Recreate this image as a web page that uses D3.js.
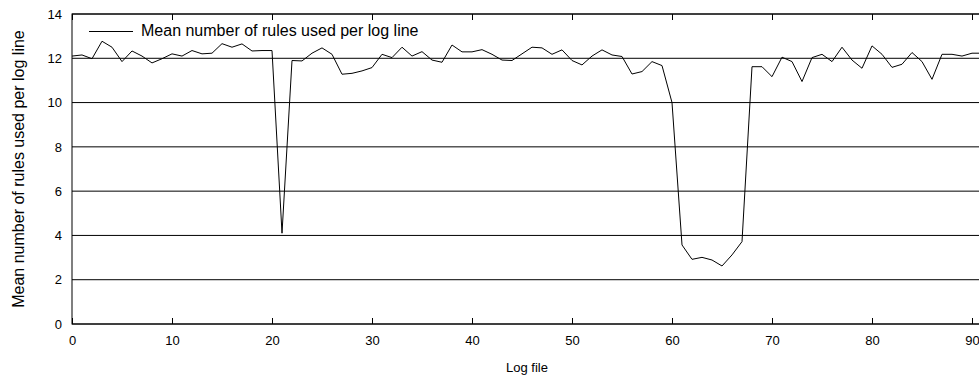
<!DOCTYPE html>
<html>
<head>
<meta charset="utf-8">
<script src="https://cdn.jsdelivr.net/npm/d3@7"></script>
<style>
  body { margin: 0; background: #fff; }
  svg { font-family: "Liberation Sans", Arial, sans-serif; }
</style>
</head>
<body>
<svg id="chart" width="979" height="379"></svg>
<script>
// values, one per log file (0..91)
var logFiles = d3.range(0, 92);
var meanRules = [
  12.1, 12.15, 11.98, 12.77, 12.5, 11.85, 12.33, 12.1, 11.79, 11.98,
  12.2, 12.1, 12.35, 12.2, 12.23, 12.66, 12.5, 12.65, 12.33, 12.35,
  12.35, 4.1, 11.9, 11.88, 12.23, 12.47, 12.18, 11.28, 11.32, 11.43,
  11.58, 12.18, 12.03, 12.5, 12.1, 12.3, 11.92, 11.82, 12.6, 12.29,
  12.29, 12.39, 12.18, 11.92, 11.9, 12.2, 12.5, 12.47, 12.18, 12.38,
  11.9, 11.7, 12.1, 12.38, 12.15, 12.08, 11.29, 11.4, 11.85, 11.67,
  10.0, 3.57, 2.92, 3.01, 2.89, 2.62, 3.12, 3.72, 11.62, 11.62,
  11.17, 12.05, 11.85, 10.95, 12.03, 12.18, 11.85, 12.5, 11.92, 11.55,
  12.56, 12.18, 11.59, 11.73, 12.26, 11.85, 11.05, 12.18, 12.18, 12.1,
  12.23, 12.23
];
var xTicks = [0, 10, 20, 30, 40, 50, 60, 70, 80, 90];
var yTicks = [0, 2, 4, 6, 8, 10, 12, 14];
var seriesName = "Mean number of rules used per log line";

var svg = d3.select("#chart");
// plot box (runs a little past the right edge of the window)
var pLeft = 72, pRight = 982, pTop = 14, pBottom = 324;

var x = d3.scaleLinear().domain([0, 91]).range([pLeft, pRight]);
var y = d3.scaleLinear().domain([0, 14]).range([pBottom, pTop]);

// horizontal grid
svg.append("g")
  .selectAll("line")
  .data(yTicks)
  .enter()
  .append("line")
  .attr("x1", pLeft).attr("x2", pRight)
  .attr("y1", d => y(d)).attr("y2", d => y(d))
  .style("stroke", "#000")
  .style("stroke-width", 1);

// bottom axis, ticks pointing inward
var xAxis = svg.append("g")
  .attr("transform", "translate(0," + pBottom + ")")
  .call(d3.axisBottom(x).tickValues(xTicks).tickSizeInner(-6).tickSizeOuter(0).tickPadding(12));
xAxis.select(".domain").remove();
xAxis.selectAll("line").style("stroke", "#000");
xAxis.selectAll("text").style("font-size", "13px").style("fill", "#000")
  .attr("font-family", null);

// top ticks
var xTop = svg.append("g")
  .attr("transform", "translate(0," + pTop + ")")
  .call(d3.axisTop(x).tickValues(xTicks).tickSizeInner(-6).tickSizeOuter(0).tickFormat(""));
xTop.select(".domain").remove();
xTop.selectAll("line").style("stroke", "#000");

// left axis labels
var yAxis = svg.append("g")
  .attr("transform", "translate(" + pLeft + ",0)")
  .call(d3.axisLeft(y).tickValues(yTicks).tickSize(0).tickPadding(10));
yAxis.select(".domain").remove();
yAxis.selectAll("text").style("font-size", "13px").style("fill", "#000")
  .attr("font-family", null);

// frame
svg.append("rect")
  .attr("x", pLeft).attr("y", pTop)
  .attr("width", pRight - pLeft).attr("height", pBottom - pTop)
  .style("fill", "none")
  .style("stroke", "#000")
  .style("stroke-width", 1);

// data line
var line = d3.line()
  .x((d, i) => x(logFiles[i]))
  .y(d => y(d));

svg.append("path")
  .datum(meanRules)
  .attr("d", line)
  .style("fill", "none")
  .style("stroke", "#000")
  .style("stroke-width", 1);

// legend
var legend = svg.append("g");
legend.append("line")
  .attr("x1", 89).attr("x2", 133)
  .attr("y1", 31.5).attr("y2", 31.5)
  .style("stroke", "#000");
legend.append("text")
  .attr("x", 141).attr("y", 36)
  .style("font-size", "16px")
  .text(seriesName);

// axis titles
svg.append("text")
  .attr("x", (pLeft + pRight) / 2).attr("y", 372)
  .attr("text-anchor", "middle")
  .style("font-size", "13px")
  .text("Log file");

svg.append("text")
  .attr("transform", "translate(24," + ((pTop + pBottom) / 2) + ") rotate(-90)")
  .attr("text-anchor", "middle")
  .style("font-size", "16px")
  .text("Mean number of rules used per log line");
</script>
</body>
</html>
